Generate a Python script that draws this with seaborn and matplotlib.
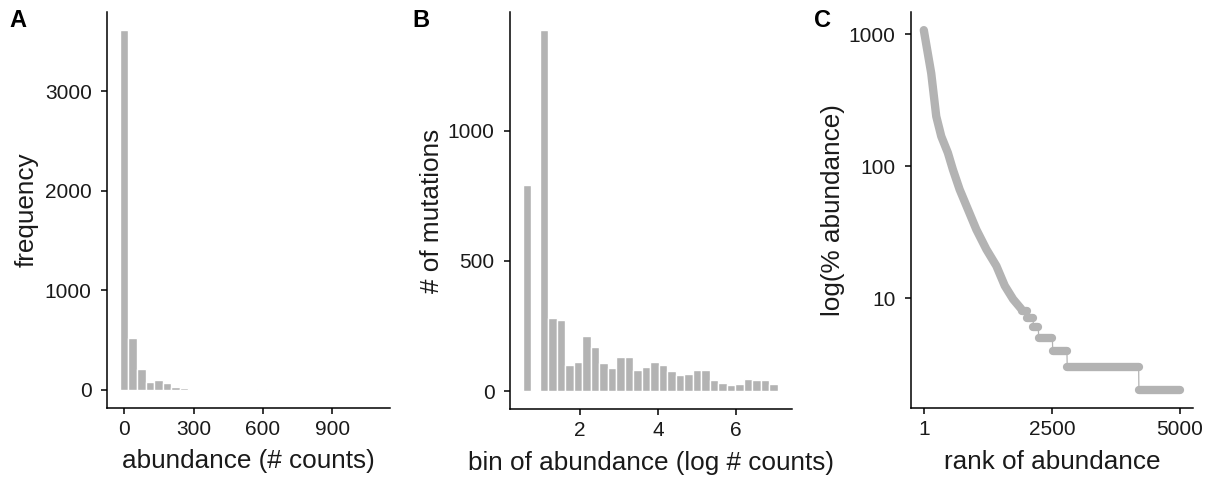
import numpy as np
import pandas as pd
import matplotlib
matplotlib.use("Agg")
import matplotlib.pyplot as plt
import seaborn as sns

# ---------------- data ----------------
# Panel A: histogram of abundance (# counts)
a_bin_centers = [0.0, 37.1, 74.2, 111.3, 148.4, 185.5, 222.6, 259.7, 296.8, 333.9,
                 371.0, 408.1, 445.2, 482.3, 519.4, 556.5, 593.6, 630.7, 667.8, 704.9,
                 742.0, 779.1, 816.2, 853.3, 890.4, 927.5, 964.6, 1001.7, 1038.8, 1075.9]
a_counts = [3618, 520, 211, 84, 100, 67, 30, 23, 0, 4,
            2, 0, 1, 0, 0, 0, 5, 0, 0, 0,
            1, 0, 0, 0, 1, 0, 0, 0, 0, 1]
a_xticks = [0, 300, 600, 900]
a_yticks = [0, 1000, 2000, 3000]

# Panel B: histogram of log(# counts)
b_bin_centers = [0.636, 0.854, 1.072, 1.290, 1.508, 1.726, 1.944, 2.162, 2.380, 2.598,
                 2.816, 3.034, 3.252, 3.470, 3.688, 3.906, 4.124, 4.342, 4.560, 4.778,
                 4.996, 5.214, 5.432, 5.650, 5.868, 6.086, 6.304, 6.522, 6.740, 6.958]
b_counts = [793, 0, 1388, 281, 272, 102, 114, 213, 170, 109,
            89, 131, 131, 82, 93, 112, 99, 78, 62, 68,
            82, 82, 44, 32, 22, 28, 46, 42, 44, 27]
b_xticks = [2, 4, 6]
b_yticks = [0, 500, 1000]

# Panel C: rank-abundance curve (read points; plateaus as start/end pairs)
c_rank = [1, 79, 146, 191, 244, 342, 471, 569, 700, 862, 1027, 1222, 1418, 1581,
          1744, 1900,
          1920, 2020,
          2025, 2135,
          2140, 2238,
          2242, 2512,
          2516, 2795,
          2800, 4195,
          4200, 5000]
c_abund = [1072, 715, 505, 357, 238, 168, 126, 94, 66.5, 47, 33, 23.4, 17.5, 12.4,
           9.8, 8.3,
           8, 8,
           7, 7,
           6, 6,
           5, 5,
           4, 4,
           3, 3,
           2, 2]
c_segment = [0] * 16 + [1, 1, 2, 2, 3, 3, 4, 4, 5, 5, 6, 6, 7, 7]
c_xticks = [1, 2500, 5000]
c_yticks = [10, 100, 1000]

# ---------------- style ----------------
sns.set_theme(style="ticks")
plt.rcParams['font.family'] = ['Liberation Sans', 'DejaVu Sans']
GREY = '#B3B3B3'
TICK_FS = 15
LAB_FS = 18.8

fig = plt.figure(figsize=(12.16, 4.82), dpi=100)
W, H = 1216, 482

def add_ax(left, right, top, bottom):
    return fig.add_axes([left / W, 1 - bottom / H, (right - left) / W, (bottom - top) / H])

axA = add_ax(107, 390, 12, 408)
axB = add_ax(510, 791.7, 11.7, 409.3)
axC = add_ax(911, 1192.7, 11.7, 408.3)

def hist_from_table(centers, counts, ax):
    c = np.asarray(centers, dtype=float)
    w = c[1] - c[0]
    df = pd.DataFrame({'x': c, 'n': np.asarray(counts, dtype=float)})
    sns.histplot(data=df, x='x', weights='n', binwidth=w,
                 binrange=(c[0] - w / 2, c[-1] + w / 2),
                 color=GREY, alpha=1, edgecolor='white', linewidth=1.0, ax=ax)

# Panel A
hist_from_table(a_bin_centers, a_counts, axA)
axA.set_xlim(-74.2, 1150)
axA.set_ylim(-181, 3799)
axA.set_xticks(a_xticks)
axA.set_yticks(a_yticks)
axA.set_xlabel('abundance (# counts)')
axA.set_ylabel('frequency')

# Panel B
hist_from_table(b_bin_centers, b_counts, axB)
axB.set_xlim(0.205, 7.43)
axB.set_ylim(-69.4, 1457)
axB.set_xticks(b_xticks)
axB.set_yticks(b_yticks)
axB.set_xlabel('bin of abundance (log # counts)')
axB.set_ylabel('# of mutations')

# Panel C
dfc = pd.DataFrame({'rank': c_rank, 'abund': c_abund, 'seg': c_segment})
sns.lineplot(data=dfc, x='rank', y='abund', estimator=None, color=GREY, lw=0.9, ax=axC)
sns.lineplot(data=dfc, x='rank', y='abund', units='seg', estimator=None, color=GREY,
             lw=6.0, solid_capstyle='round', solid_joinstyle='round', ax=axC)
axC.set_yscale('log')
axC.set_xlim(-249, 5250)
axC.set_ylim(1.46, 1479)
axC.set_xticks(c_xticks)
axC.set_yticks(c_yticks)
axC.set_yticklabels([str(v) for v in c_yticks])
axC.yaxis.set_minor_locator(matplotlib.ticker.NullLocator())
axC.set_xlabel('rank of abundance')
axC.set_ylabel('log(% abundance)')

for ax, ylx in ((axA, -0.24), (axB, -0.234), (axC, -0.234)):
    sns.despine(ax=ax)
    for s in ('left', 'bottom'):
        ax.spines[s].set_linewidth(1.1)
        ax.spines[s].set_color('black')
    ax.tick_params(axis='both', which='major', length=4.5, width=1.1, color='black',
                   labelsize=TICK_FS, labelcolor='#1a1a1a')
    ax.tick_params(axis='y', pad=6.5)
    ax.tick_params(axis='x', pad=3.8)
    ax.xaxis.label.set_size(LAB_FS)
    ax.yaxis.label.set_size(LAB_FS)
    ax.xaxis.label.set_color('#1a1a1a')
    ax.yaxis.label.set_color('#1a1a1a')
    ax.yaxis.set_label_coords(ylx, 0.5)
    ax.xaxis.set_label_coords(0.5, -0.104)
    ax.grid(False)

for lab, x in (('A', 9), ('B', 412), ('C', 814)):
    fig.text(x / W, 1 - 9 / H, lab, ha='left', va='top', fontsize=17, fontweight='bold',
             color='black')

fig.savefig('out.png', dpi=100)
